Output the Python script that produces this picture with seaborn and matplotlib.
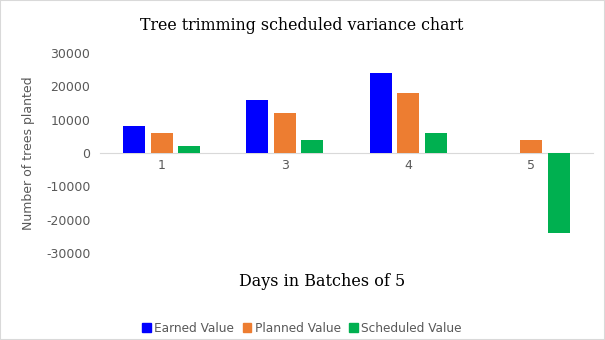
import matplotlib
matplotlib.use("Agg")
import matplotlib.pyplot as plt
import seaborn as sns
import pandas as pd
from matplotlib.patches import Rectangle

days = ["1", "3", "4", "5"]
earned = [8000, 16000, 24000, 0]
planned = [6000, 12000, 18000, 4000]
scheduled = [2000, 4000, 6000, -24000]
series_names = ["Earned Value", "Planned Value", "Scheduled Value"]
colors = ["#0000FF", "#ED7D31", "#00B050"]

rows = []
for name, vals in zip(series_names, [earned, planned, scheduled]):
    for d, v in zip(days, vals):
        rows.append({"Day": d, "Series": name, "Value": v})
df = pd.DataFrame(rows)

sns.set_style("white")
fig = plt.figure(figsize=(6.05, 3.4), dpi=100)
ax = fig.add_axes([100/605, 1-253/340, 493/605, 200/340])

sns.barplot(data=df, x="Day", y="Value", hue="Series", palette=colors,
            width=0.67, gap=0.2, ax=ax, legend=False, saturation=1, linewidth=0)

ax.set_ylim(-30000, 30000)
ax.set_xlim(-0.5, 3.5)
ax.set_yticks(range(-30000, 30001, 10000))
ax.set_yticklabels([str(v) for v in range(-30000, 30001, 10000)])
for s in ["top", "right", "left"]:
    ax.spines[s].set_visible(False)
ax.spines["bottom"].set_position(("data", 0))
ax.spines["bottom"].set_color("#d9d9d9")
ax.spines["bottom"].set_zorder(0)
ax.tick_params(axis="both", length=0, labelsize=9, colors="#595959", pad=4)
ax.tick_params(axis="y", pad=7)
ax.set_xlabel("")
ax.set_ylabel("Number of trees planted", fontsize=9, color="#595959", labelpad=8)

fig.text(302/605, 1-26/340, "Tree trimming scheduled variance chart",
         ha="center", va="center", fontsize=11.4, family="DejaVu Serif", color="#000000")
fig.text(322/605, 1-281/340, "Days in Batches of 5",
         ha="center", va="center", fontsize=11.5, family="DejaVu Serif", color="#000000")

handles = [Rectangle((0, 0), 1, 1, color=c) for c in colors]
leg = fig.legend(handles, series_names, loc="center", bbox_to_anchor=(302/605, 1-328/340),
                 ncol=3, frameon=False, fontsize=8.7, handlelength=0.7, handleheight=0.7,
                 handletextpad=0.3, columnspacing=0.7)
for t in leg.get_texts():
    t.set_color("#595959")

fig.patches.append(Rectangle((0, 0), 1, 1, transform=fig.transFigure, fill=False,
                             edgecolor="#d9d9d9", linewidth=1.5))

fig.savefig("out.png", dpi=100)
